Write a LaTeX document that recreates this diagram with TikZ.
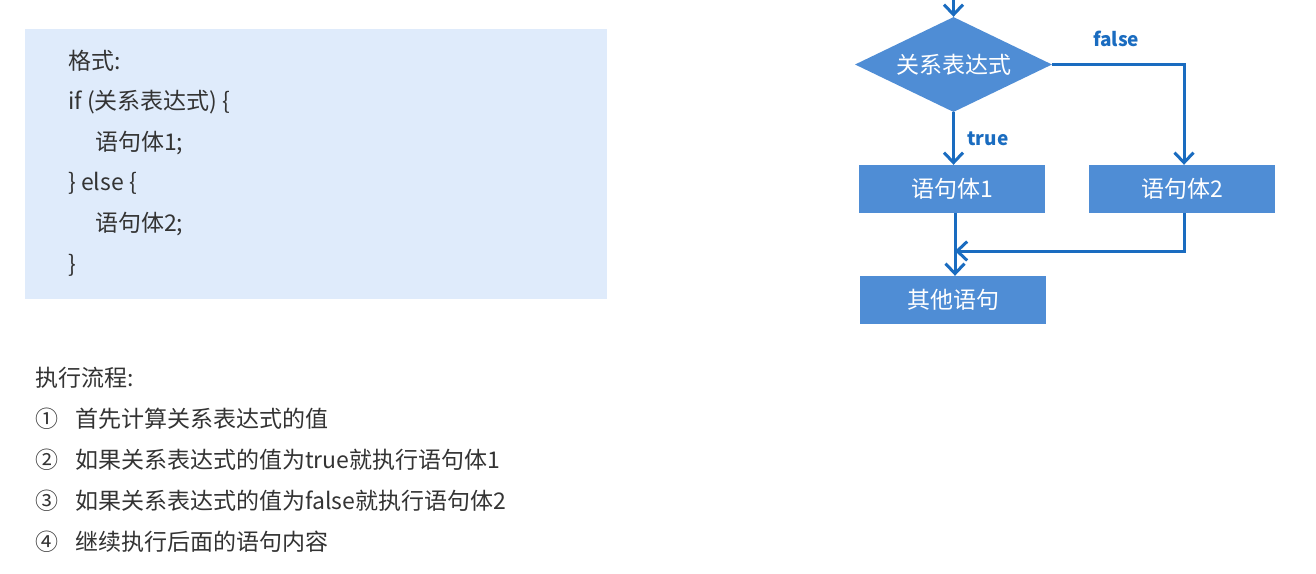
\documentclass[tikz,border=0pt]{standalone}
\usepackage{fontspec}
\setmainfont{Noto Sans CJK SC}
\usetikzlibrary{shapes.geometric,arrows.meta}
\definecolor{codebg}{HTML}{DFEBFB}
\definecolor{txt}{HTML}{333333}
\definecolor{nodefill}{HTML}{4F8DD5}
\definecolor{linec}{HTML}{1A6CC0}
\tikzset{
  codeline/.style={anchor=west,inner sep=0pt,text=txt,font=\fontsize{23}{26}\selectfont},
  listline/.style={anchor=west,inner sep=0pt,text=txt,font=\fontsize{23}{26}\selectfont},
  flowbox/.style={rectangle,fill=nodefill,text=white,minimum width=186pt,minimum height=48pt,inner sep=0pt,font=\fontsize{23}{26}\selectfont},
  decision/.style={diamond,fill=nodefill,text=white,minimum width=197pt,minimum height=95pt,inner sep=0pt,aspect=2.07,font=\fontsize{23}{26}\selectfont},
  conn/.style={draw=linec,line width=3pt,-{Straight Barb[length=10pt,width=19pt,line width=3pt]}},
  branchlabel/.style={text=linec,font=\bfseries\fontsize{19}{22}\selectfont,inner sep=0pt}
}
\begin{document}
\begin{tikzpicture}[x=1pt,y=-1pt]
\useasboundingbox (0,0) rectangle (1316,573);
\fill[white] (0,0) rectangle (1316,573);
% code box
\fill[codebg] (25,29) rectangle (607,299);
\node[codeline] (l1) at (68,61) {格式:};
\node[codeline] (l2) at (68,102) {if (关系表达式) \{};
\node[codeline] (l3) at (95,143) {语句体1;};
\node[codeline] (l4) at (68,183) {\} else \{};
\node[codeline] (l5) at (95,224) {语句体2;};
\node[codeline] (l6) at (68,265) {\}};
% list
\node[listline] (h) at (35,378) {执行流程:};
\node[listline] (n1) at (35,419) {①};
\node[listline] (t1) at (75,419) {首先计算关系表达式的值};
\node[listline] (n2) at (35,460) {②};
\node[listline] (t2) at (75,460) {如果关系表达式的值为true就执行语句体1};
\node[listline] (n3) at (35,501) {③};
\node[listline] (t3) at (75,501) {如果关系表达式的值为false就执行语句体2};
\node[listline] (n4) at (35,542) {④};
\node[listline] (t4) at (75,542) {继续执行后面的语句内容};
% flowchart
\node[decision] (d) at (953.5,64.5) {关系表达式};
\node[flowbox] (b1) at (952,189) {语句体1};
\node[flowbox] (b2) at (1182,189) {语句体2};
\node[flowbox] (b3) at (953,300) {其他语句};
\coordinate (top) at (953.5,-2);
\coordinate (fr) at (1184,64.5);
\coordinate (b2low) at (1184,251);
\coordinate (merge) at (955,251);
\draw[conn] (top) -- (d.north);
\draw[conn] (d.east) -- (fr) -- (b2.north -| fr);
\draw[conn] (d.south) -- (b1.north -| d.south);
\draw[conn] (b1.south -| merge) -- (b3.north -| merge);
\draw[conn] (b2.south -| b2low) -- (b2low) -- (merge);
\node[branchlabel] (lf) at (1116,39) {false};
\node[branchlabel] (lt) at (988,139) {true};
\end{tikzpicture}
\end{document}
